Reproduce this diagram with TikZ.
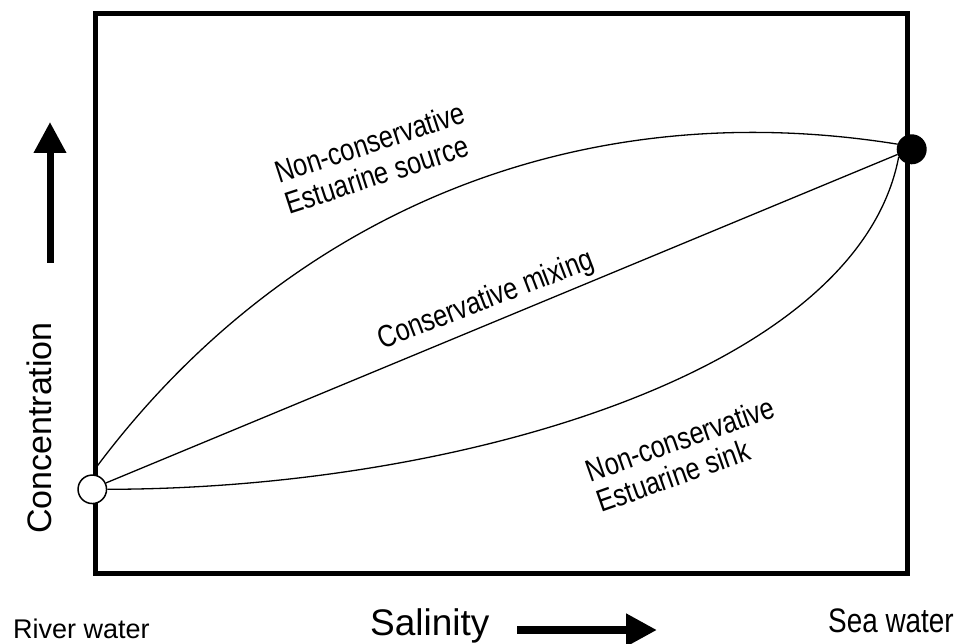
\documentclass[tikz,border=0pt]{standalone}
\usepackage{fontspec}
\setmainfont{Liberation Sans}
\newfontfamily\narrowsf{Liberation Sans}[FakeStretch=0.82]
\usetikzlibrary{arrows.meta}

\begin{document}
\begin{tikzpicture}[x=1pt,y=-1pt,
   endpt/.style={circle,draw,line width=1.5pt,minimum size=28.5pt,inner sep=0pt},
   curve/.style={line width=1.3pt},
   lbl/.style={font=\narrowsf\fontsize{31}{32.5}\selectfont,inner sep=0pt,align=left},
   axlbl/.style={inner sep=0pt,anchor=base west},
   bigarrow/.style={-{Triangle[length=31pt,width=31pt]}}]
   \useasboundingbox (0,0) rectangle (959,644);
   \draw[line width=5pt] (95,13.5) rectangle (907,573);

   \node[endpt,fill=white] (river) at (92.3,489.3) {};
   \node[endpt,fill=black] (sea)   at (911.7,149.3) {};
   \coordinate (srcstart) at (96.5,467);

   \draw[curve] (srcstart) .. controls (276,227) and (560,90) .. (sea.160);
   \draw[curve] (river.25) -- (sea.200);
   \draw[curve] (river.east) .. controls (457,489) and (858,372.5) .. (sea.210);

   \node[lbl,rotate=18,anchor=north west]   (srclbl)  at (272,162) {Non-conservative\\Estuarine source};
   \node[lbl,rotate=21]                     (mixlbl)  at (486,301) {Conservative mixing};
   \node[lbl,rotate=19.5,anchor=north west] (sinklbl) at (583,461) {Non-conservative\\Estuarine sink};

   \coordinate (cbot) at (50,263);
   \coordinate (ctop) at (50,122);
   \draw[bigarrow,line width=7pt] (cbot) -- (ctop);
   \node[inner sep=0pt,rotate=90,font=\fontsize{34}{40}\selectfont] (conc) at (39,428) {Concentration};

   \coordinate (sleft)  at (517,630);
   \coordinate (sright) at (657,630);
   \draw[bigarrow,line width=8pt] (sleft) -- (sright);
   \node[axlbl,font=\fontsize{37}{44}\selectfont] (sal) at (370,635) {Salinity};
   \node[axlbl,font=\fontsize{27}{32}\selectfont] (riverlbl) at (13,638) {River water};
   \node[axlbl,font=\narrowsf\fontsize{34}{40}\selectfont] (sealbl) at (828,632) {Sea water};
\end{tikzpicture}
\end{document}
